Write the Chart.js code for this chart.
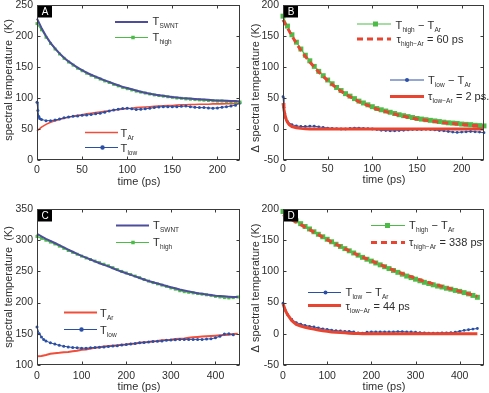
<!DOCTYPE html>
<html><head><meta charset="utf-8">
<script src="https://cdn.jsdelivr.net/npm/chart.js@4.4.1/dist/chart.umd.min.js"></script>
<style>
body{margin:0;background:#fff}
#wrap{position:relative;width:489px;height:393px;background:#fff}
#wrap canvas{position:absolute;left:0;top:0}
</style></head>
<body><div id="wrap">
<canvas id="cA" width="489" height="393"></canvas>
<canvas id="cB" width="489" height="393"></canvas>
<canvas id="cC" width="489" height="393"></canvas>
<canvas id="cD" width="489" height="393"></canvas>
</div>
<script>
// ---------------- DATA ----------------
// Panel A / B time axis (ps)
const tA = [0,5,10,15,20,25,30,35,40,45,50,55,60,65,70,75,80,85,90,95,100,105,110,115,120,125,130,135,140,145,150,155,160,165,170,175,180,185,190,195,200,205,210,215,220,225];
const tLowA = [0,1,2,3,5,10,15,20,25,30,35,40,45,50,55,60,65,70,75,80,85,90,95,100,105,110,115,120,125,130,135,140,145,150,155,160,165,170,175,180,185,190,195,200,205,210,215,220,225];
// Panel A series (K)
const swntA = [228,213,200,189,180,172,165,159,154,149,145,141,137.5,134.5,131.5,128.5,126,123,120.5,118,116,114,112,110,108.5,107,105.5,104.5,103.5,102.5,101.5,101,100,99.5,99,98.5,98,97.5,97,96.5,96,96,95.5,95,95,94.5];
const highA = [220,210,198,188,179,171,164,158,153,148,144,140,136.5,133.5,130.5,127.5,125,122,119.5,117,115,113,111,109.5,108,106.5,105,104,103,102,101,100,99.5,98.5,98,97.5,97,96.5,96,95.5,95,95,94.5,94,94,93.5];
const arA = [47,53,57.5,61,63.5,65.5,67.5,69,70.5,72,73,74.5,75.5,76.5,77.5,78.5,79.5,80.5,81.5,82,83,83.5,84.5,85,85.5,86,86.5,87,87.5,88,88,88.5,89,89,89.5,89.5,90,90,90,90.5,90.5,90.5,91,91,91,91];
const lowA = [93,80,70,67,65.5,63.5,63.5,64.5,66,68,69.5,70.5,71,72,72.5,73.5,74.5,75.5,77,79,80.5,82,83,83.5,82.5,81.5,82,82.5,83.5,84.5,85.5,86,86,86,86,86.5,87,86,85,84.5,84.5,84,83.5,84,85,86,87,88.5,92];

// Panel B series (K)
const highB = [182,166,152,140,129,119,110,101,93,86,79,73,67,62,57,53,49,45,42,39,36,33,31,29,27,25,23,21.5,20,18.5,17,16,15,14,13,12,11,10,9.5,9,8,7.5,7,6,5.5,5];
const fitHighB = [176,163,150,138,127,117,108,100,92,85,78,72,66,61,56,52,48,44,41,38,35,32,30,28,26,24,22,20.5,19,17.5,16,15,14,13,12,11,10,9.5,9,8,7.5,7,6,5.5,5,4.5];
const lowB = [52,35,25,18,12,7,5,4,4,4.5,4.5,3.5,2.5,1.5,1,0.5,0,0,1,1.5,1.5,1,0.5,0,-1,-2,-2.5,-3,-3,-2.5,-2,-1.5,-1,-1,-1,-0.5,-1,-1.5,-2.5,-3,-4,-5,-5.5,-5,-4.5,-4,-4.5,-5,-6];
const tFitLowB = [0,1,2,3,4,5,7,10,15,20,25,30,50,100,150,200,225];
const fitLowB = [42,32,24,18,14,11,7,4,2,1,0.5,0,0,0,0,0,0];

// Panel C / D time axis (ps)
const tC = [0,10,20,30,40,50,60,70,80,90,100,110,120,130,140,150,160,170,180,190,200,210,220,230,240,250,260,270,280,290,300,310,320,330,340,350,360,370,380,390,400,410,420,430,440,450];
const tLowC = [0,5,10,15,20,30,40,50,60,70,80,90,100,110,120,130,140,150,160,170,180,190,200,210,220,230,240,250,260,270,280,290,300,310,320,330,340,350,360,370,380,390,400,410,420,430,440];
const swntC = [310,306,302,299,295.5,292,288.5,285,281.5,278,275,272,269,266,263,260.5,258,255,252,249.5,247,244.5,242,239.5,237,234.5,232.5,230.5,228.5,226.5,224.5,223,221,219.5,218,216.5,215,214,213,212,211,210.5,210,209.5,209,209];
const highC = [306,303,300,297,294,290.5,287,283.5,280.5,277.5,274.5,271.5,269,266.5,264,261.5,259,256,253,250,247.5,245,242.5,240,237,234.5,232,230,228,226,223.5,221.5,219,217.5,216.5,215.5,214.5,213.5,212.5,211.5,210,209,208,207.5,208,209];
const arC = [114,114.5,116,118,119,119.5,120.5,121,122,123,124.5,125,126.5,127.5,128.5,129.5,130.5,131,131.5,132.5,133,134,134.5,135.5,136.5,137,138,138.5,139.5,140,140.5,141.5,142,142.5,143.5,144.5,145,145.5,146,146.5,147,147.5,148,148.5,149.5,150];
const lowC = [161,150,145,141,138.5,135.5,133.5,131.5,130,129,128,127.5,127,127,127.5,128,128.5,129,129.5,130.5,131,132,133,133.5,134.5,135.5,136,137,137.5,138,138.5,139.5,140,140.5,141,141,141,141,141,141,141.5,142,143.5,146,149.5,150,148.5];

const tD = [0,10,20,30,40,50,60,70,80,90,100,110,120,130,140,150,160,170,180,190,200,210,220,230,240,250,260,270,280,290,300,310,320,330,340,350,360,370,380,390,400,410,420,430,440];
const tLowD = [0,5,10,20,30,40,50,60,70,80,90,100,110,120,130,140,150,160,170,180,190,200,210,220,230,240,250,260,270,280,290,300,310,320,330,340,350,360,370,380,390,400,410,420,430,440];
const highD = [196,190,185.5,181,176.5,172,168,163.5,159.5,155.5,151.5,147.5,143.5,140,136.5,133,129.5,126,122.5,119.5,116.5,113.5,110.5,107.5,104.5,101.5,98.5,95.5,92.5,90,87.5,85,82.5,80.5,78.5,76.5,75,73,71.5,69.5,68,66,64,61.5,58.5];
const fitHighD = [191,187,183,179,175,171,167,163,159,155,151,147,143.5,140,136.5,133,129.5,126,123,120,117,114,111,108,105,102,99,96.5,94,91.5,89,86.5,84,82,80,78,76,74,72,70,68,66,64,62,60];
const lowD = [49,38,31,23,18,15.5,13.5,12,11,9.5,8,7,6,5,4.5,4,4,3,1.5,1,2.5,3,3,3,3,3,3,3.5,3.5,3,3,2.5,2,1.5,1,1,1,1.5,1.5,2,2.5,4,5.5,6.5,7.5,8.5];
const fitLowD = [48,38,31,21,15,12.5,10.5,9,7.5,6,5,4,3,2.5,2,1.5,1,0.5,0.5,0,0,0,0,0,0,0,0,0,0,0,0,0,0,0,0,0,0,0,0,0,0,0,0,0,0,0];

// Tick values
const xTicksAB = [0,50,100,150,200];
const xTicksCD = [0,100,200,300,400];
const yTicksA = [0,50,100,150,200,250];
const yTicksBD = [-50,0,50,100,150,200];
const yTicksC = [100,150,200,250,300,350];

// ---------------- STYLE ----------------
const FONT = '"Liberation Sans", Arial, Helvetica, sans-serif';
const C = {swnt:'#4d4d9c', green:'#4dbb48', red:'#f04e3a', redFit:'#e8442f', blue:'#2a4fa5', text:'#2e2e2e', axis:'#3a3a3a'};
Chart.defaults.font.family = FONT;

function pts(t, v){ return t.map((x,i)=>({x:x, y:v[i]})); }
function ds(t, v, o){
  return Object.assign({
    data: pts(t, v), borderColor: o.color, backgroundColor: o.color,
    borderWidth: o.lw, pointRadius: 0, pointHoverRadius: 0, pointBorderWidth: 0,
    pointBackgroundColor: o.color, tension: 0, fill: false, clip: 5
  }, o.extra || {});
}

function drawText(ctx, parts, x, y){
  for (const p of parts){
    const sub = p[1] === 1;
    ctx.font = (sub ? '6.5px ' : '11px ') + FONT;
    ctx.fillStyle = C.text;
    ctx.textAlign = 'left'; ctx.textBaseline = 'alphabetic';
    ctx.fillText(p[0], x, sub ? y + 3 : y);
    x += ctx.measureText(p[0]).width + (sub ? 0.3 : 0.2);
  }
}

const framePlugin = {
  id: 'frame',
  afterDraw(chart, args, o){
    const ctx = chart.ctx, a = chart.chartArea, xs = chart.scales.x, ys = chart.scales.y;
    ctx.save();
    const L = Math.round(a.left)+0.5, R = Math.round(a.right)-0.5, T = Math.round(a.top)+0.5, B = Math.round(a.bottom)-0.5;
    ctx.strokeStyle = C.axis; ctx.lineWidth = 1; ctx.setLineDash([]);
    ctx.strokeRect(L, T, R-L, B-T);
    ctx.beginPath();
    xs.ticks.forEach(t => { const p = Math.round(xs.getPixelForValue(t.value))+0.5;
      ctx.moveTo(p, B); ctx.lineTo(p, B-3); ctx.moveTo(p, T); ctx.lineTo(p, T+3); });
    ys.ticks.forEach(t => { const p = Math.round(ys.getPixelForValue(t.value))+0.5;
      ctx.moveTo(L, p); ctx.lineTo(L+3, p); ctx.moveTo(R, p); ctx.lineTo(R-3, p); });
    ctx.stroke();
    ctx.fillStyle = '#000';
    ctx.fillRect(a.left+1, a.top+1, 14, 11.5);
    ctx.fillStyle = '#fff'; ctx.font = '10px ' + FONT; ctx.textAlign = 'center'; ctx.textBaseline = 'middle';
    ctx.fillText(o.letter, a.left+8, a.top+7.2);
    ctx.fillStyle = C.text; ctx.font = '11px ' + FONT; ctx.textAlign = 'center'; ctx.textBaseline = 'middle';
    ctx.fillText('time (ps)', o.xt[0], o.xt[1]);
    ctx.save(); ctx.translate(o.yt[0], o.yt[1]); ctx.rotate(-Math.PI/2);
    ctx.fillText(o.ytitle, 0, 0); ctx.restore();
    for (const e of o.legend){
      ctx.strokeStyle = e.color; ctx.lineWidth = e.lw; ctx.setLineDash(e.dash || []);
      ctx.beginPath(); ctx.moveTo(e.x1, e.y); ctx.lineTo(e.x2, e.y); ctx.stroke();
      ctx.setLineDash([]);
      ctx.fillStyle = e.color;
      if (e.marker === 'rect'){ ctx.fillRect(e.mx - e.ms/2, e.y - e.ms/2, e.ms, e.ms); }
      if (e.marker === 'circle'){ ctx.beginPath(); ctx.arc(e.mx, e.y, e.ms/2, 0, Math.PI*2); ctx.fill(); }
      drawText(ctx, e.text, e.tx, e.ty);
    }
    ctx.restore();
  }
};

function panel(id, g, xr, yr, datasets, deco){
  const W = 489, H = 393, YW = 40, XH = 30;
  new Chart(document.getElementById(id), {
    type: 'line',
    data: { datasets: datasets },
    plugins: [framePlugin],
    options: {
      responsive: false, animation: false, devicePixelRatio: 1,
      events: [],
      layout: { padding: { left: g.L - YW, right: W - g.R, top: g.T, bottom: H - g.B - XH } },
      plugins: { legend: { display: false }, tooltip: { enabled: false }, frame: deco },
      scales: {
        x: { type: 'linear', min: xr.min, max: xr.max,
          afterBuildTicks: s => { s.ticks = xr.ticks.map(v => ({ value: v })); },
          afterFit: s => { s.height = XH; s.paddingLeft = 0; s.paddingRight = 0; },
          grid: { display: false, drawTicks: false }, border: { display: false },
          ticks: { padding: g.xpad, color: C.text, font: { size: 10.5, family: FONT }, maxRotation: 0, autoSkip: false } },
        y: { type: 'linear', min: yr.min, max: yr.max,
          afterBuildTicks: s => { s.ticks = yr.ticks.map(v => ({ value: v })); },
          afterFit: s => { s.width = YW; s.paddingTop = 0; s.paddingBottom = 0; },
          grid: { display: false, drawTicks: false }, border: { display: false },
          ticks: { padding: 4, color: C.text, font: { size: 10.5, family: FONT }, autoSkip: false } }
      }
    }
  });
}

// ---------- Panel A ----------
panel('cA', {L:37, R:240, T:5, B:160, xpad:3.5},
  {min:0, max:225, ticks:xTicksAB}, {min:0, max:250, ticks:yTicksA},
  [
    ds(tA, swntA, {color:C.swnt, lw:2}),
    ds(tA, highA, {color:C.green, lw:1.2, extra:{pointStyle:'rect', pointRadius:2.1}}),
    ds(tLowA, lowA, {color:C.blue, lw:1, extra:{pointStyle:'circle', pointRadius:1.5}}),
    ds(tA, arA, {color:C.red, lw:1.6})
  ],
  { letter:'A', xt:[139,182], yt:[8.5,80], ytitle:'spectral temperature  (K)',
    legend:[
      {x1:115,x2:148,y:22,color:C.swnt,lw:2,tx:152.5,ty:25,text:[['T'],['SWNT',1]]},
      {x1:115,x2:148,y:37.5,color:C.green,lw:1,marker:'rect',ms:3.5,mx:133,tx:152.5,ty:40.5,text:[['T'],['high',1]]},
      {x1:85,x2:118,y:132.5,color:C.red,lw:1.6,tx:120.5,ty:136.5,text:[['T'],['Ar',1]]},
      {x1:85,x2:118,y:147.5,color:C.blue,lw:1,marker:'circle',ms:4.5,mx:102.5,tx:120.5,ty:152,text:[['T'],['low',1]]}
    ]});

// ---------- Panel B ----------
panel('cB', {L:283, R:484, T:5, B:160, xpad:2.5},
  {min:0, max:225, ticks:xTicksAB}, {min:-50, max:200, ticks:yTicksBD},
  [
    ds(tA, fitHighB, {color:C.redFit, lw:3, extra:{borderDash:[6,4]}}),
    ds(tFitLowB, fitLowB, {color:C.redFit, lw:3}),
    ds(tA, highB, {color:C.green, lw:1.2, extra:{pointStyle:'rect', pointRadius:3.5}}),
    ds(tLowA, lowB, {color:C.blue, lw:1, extra:{pointStyle:'circle', pointRadius:1.4}})
  ],
  { letter:'B', xt:[384,179.5], yt:[256,88], ytitle:'\u0394 spectral temperature (K)',
    legend:[
      {x1:357,x2:391,y:24,color:C.green,lw:1.2,marker:'rect',ms:5,mx:375.5,tx:395.5,ty:28.5,text:[['T'],['high',1],[' \u2212 T'],['Ar',1]]},
      {x1:357,x2:391,y:39,color:C.redFit,lw:3,dash:[6,4],tx:396.5,ty:42.5,text:[['\u03c4'],['high\u2212Ar',1],[' = 60 ps']]},
      {x1:390,x2:424,y:80,color:C.blue,lw:1,marker:'circle',ms:4,mx:407,tx:428,ty:84,text:[['T'],['low',1],[' \u2212 T'],['Ar',1]]},
      {x1:390,x2:424,y:96.5,color:C.redFit,lw:3,tx:428,ty:100,text:[['\u03c4'],['low\u2212Ar',1],[' = 2 ps.']]}
    ]});

// ---------- Panel C ----------
panel('cC', {L:37, R:240, T:209, B:365, xpad:5},
  {min:0, max:455, ticks:xTicksCD}, {min:100, max:350, ticks:yTicksC},
  [
    ds(tC, swntC, {color:C.swnt, lw:2}),
    ds(tC, highC, {color:C.green, lw:1.2, extra:{pointStyle:'rect', pointRadius:2.1}}),
    ds(tLowC, lowC, {color:C.blue, lw:1, extra:{pointStyle:'circle', pointRadius:1.5}}),
    ds(tC, arC, {color:C.red, lw:2})
  ],
  { letter:'C', xt:[139,387], yt:[8.5,287], ytitle:'spectral temperature  (K)',
    legend:[
      {x1:116,x2:149,y:225.5,color:C.swnt,lw:2,tx:153,ty:228.5,text:[['T'],['SWNT',1]]},
      {x1:116,x2:149,y:242.5,color:C.green,lw:1,marker:'rect',ms:3.5,mx:133,tx:153,ty:245.5,text:[['T'],['high',1]]},
      {x1:64,x2:97,y:312.5,color:C.red,lw:1.8,tx:100,ty:316.5,text:[['T'],['Ar',1]]},
      {x1:64,x2:97,y:329.5,color:C.blue,lw:1,marker:'circle',ms:4.5,mx:81.5,tx:100,ty:333.5,text:[['T'],['low',1]]}
    ]});

// ---------- Panel D ----------
panel('cD', {L:283, R:484, T:209, B:365, xpad:5},
  {min:0, max:455, ticks:xTicksCD}, {min:-50, max:200, ticks:yTicksBD},
  [
    ds(tD, fitHighD, {color:C.redFit, lw:3, extra:{borderDash:[6,4]}}),
    ds(tLowD, fitLowD, {color:C.redFit, lw:3}),
    ds(tD, highD, {color:C.green, lw:1.2, extra:{pointStyle:'rect', pointRadius:3.5}}),
    ds(tLowD, lowD, {color:C.blue, lw:1, extra:{pointStyle:'circle', pointRadius:1.4}})
  ],
  { letter:'D', xt:[384,387], yt:[256,288], ytitle:'\u0394 spectral temperature (K)',
    legend:[
      {x1:371,x2:405,y:225.5,color:C.green,lw:1.2,marker:'rect',ms:5,mx:387.5,tx:409,ty:229,text:[['T'],['high',1],[' \u2212 T'],['Ar',1]]},
      {x1:371,x2:405,y:242.5,color:C.redFit,lw:3,dash:[6,4],tx:409,ty:246,text:[['\u03c4'],['high\u2212Ar',1],[' = 338 ps']]},
      {x1:308,x2:341,y:292.5,color:C.blue,lw:1,marker:'circle',ms:4,mx:325.5,tx:345.5,ty:296,text:[['T'],['low',1],[' \u2212 T'],['Ar',1]]},
      {x1:308,x2:341,y:305.5,color:C.redFit,lw:3,tx:345.5,ty:310,text:[['\u03c4'],['low\u2212Ar',1],[' = 44 ps']]}
    ]});
</script>
</body></html>
